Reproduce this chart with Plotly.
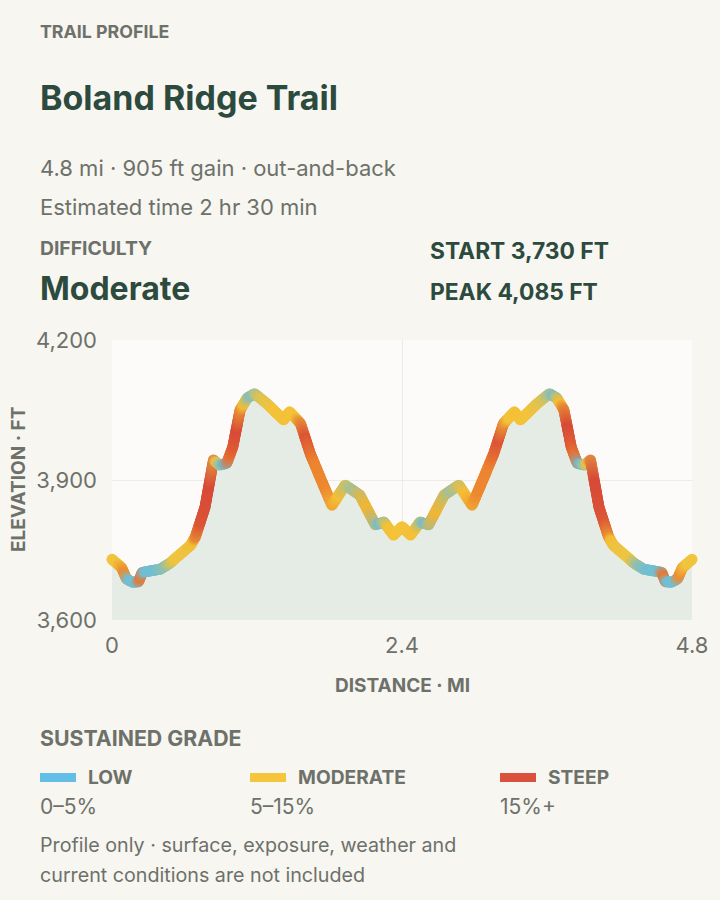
import math
import plotly.graph_objects as go

# ---------------- data ----------------
distance_mi = [
    0.00, 0.08, 0.12, 0.17, 0.22, 0.25, 0.31, 0.40, 0.48, 0.56, 0.65, 0.69,
    0.77, 0.84, 0.89, 0.95, 1.00, 1.06, 1.12, 1.18, 1.28, 1.42, 1.47, 1.56,
    1.64, 1.72, 1.82, 1.93, 2.05, 2.18, 2.25, 2.33, 2.40,
    2.47, 2.55, 2.62, 2.75, 2.87, 2.98, 3.08, 3.16, 3.24, 3.33, 3.38, 3.52,
    3.62, 3.68, 3.74, 3.80, 3.85, 3.91, 3.96, 4.03, 4.11, 4.15, 4.24, 4.32,
    4.40, 4.49, 4.55, 4.58, 4.63, 4.68, 4.72, 4.80,
]
elevation_ft = [
    3730, 3712, 3688, 3681, 3682, 3702, 3705, 3709, 3722, 3740, 3760, 3778,
    3842, 3943, 3932, 3936, 3971, 4050, 4076, 4085, 4064, 4029, 4046, 4021,
    3957, 3907, 3846, 3889, 3868, 3804, 3810, 3782, 3800,
    3782, 3810, 3804, 3868, 3889, 3846, 3907, 3957, 4021, 4046, 4029, 4064,
    4085, 4076, 4050, 3971, 3936, 3932, 3943, 3842, 3778, 3760, 3740, 3722,
    3709, 3705, 3702, 3682, 3681, 3688, 3712, 3730,
]

x_tick_vals = [0, 2.4, 4.8]
x_tick_text = ["0", "2.4", "4.8"]
y_tick_vals = [3600, 3900, 4200]
y_tick_text = ["3,600", "3,900", "4,200"]

grade_names = ["LOW", "MODERATE", "STEEP"]
grade_ranges = ["0–5%", "5–15%", "15%+"]
grade_colors = ["#64bfe8", "#f5c63c", "#db523c"]

title_small = "TRAIL PROFILE"
title_main = "Boland Ridge Trail"
subtitle_1 = "4.8 mi · 905 ft gain · out-and-back"
subtitle_2 = "Estimated time 2 hr 30 min"
difficulty_label = "DIFFICULTY"
difficulty_value = "Moderate"
start_text = "START 3,730 FT"
peak_text = "PEAK 4,085 FT"
footnote_lines = ["Profile only · surface, exposure, weather and",
                  "current conditions are not included"]

# ---------------- styling ----------------
PAGE_BG = "#f7f6f1"
PLOT_BG = "#fcfbf9"
FILL = "#e4ece5"
GRID = "#ecebe6"
GRAY = "#6d716a"
DARK = "#2c4a3d"
FONT = "Inter, Roboto, sans-serif"

W, H = 720, 900
ML, MR, MT, MB = 112, 28, 340, 280
PW, PH = W - ML - MR, H - MT - MB
XR = (0, 4.8)
YR = (3600, 4200)


def px(x):
    return (x - ML) / PW


def py(y):
    return (H - MB - y) / PH


# grade -> colour scale used for the profile stroke
scale_stops = [
    (0.0, (114, 190, 210)),
    (2.7, (114, 190, 210)),
    (4.3, (244, 196, 58)),
    (9.0, (244, 188, 50)),
    (12.0, (236, 128, 48)),
    (16.0, (215, 74, 56)),
]


def grade_rgb(g):
    g = abs(g)
    if g <= scale_stops[0][0]:
        return scale_stops[0][1]
    for (g0, c0), (g1, c1) in zip(scale_stops, scale_stops[1:]):
        if g <= g1:
            t = (g - g0) / (g1 - g0)
            return tuple(c0[k] + (c1[k] - c0[k]) * t for k in range(3))
    return scale_stops[-1][1]


def mix(a, b, t):
    return tuple(a[k] + (b[k] - a[k]) * t for k in range(3))


def hexc(c):
    return "#%02x%02x%02x" % tuple(int(round(v)) for v in c)


n = len(distance_mi)
seg_grade = [
    100 * (elevation_ft[i + 1] - elevation_ft[i]) / ((distance_mi[i + 1] - distance_mi[i]) * 5280)
    for i in range(n - 1)
]
seg_col = [grade_rgb(g) for g in seg_grade]
vert_col = [seg_col[0]] + [mix(seg_col[i - 1], seg_col[i], 0.5) for i in range(1, n - 1)] + [seg_col[-1]]

# dense stroke along each straight segment of the profile (rendering of the gradient line)
sx, sy, sc = [], [], []
for i in range(n - 1):
    x0, x1 = distance_mi[i], distance_mi[i + 1]
    y0, y1 = elevation_ft[i], elevation_ft[i + 1]
    lpx = math.hypot((x1 - x0) * PW / (XR[1] - XR[0]), (y1 - y0) * PH / (YR[1] - YR[0]))
    m = max(2, int(math.ceil(lpx / 1.2)))
    for j in range(m):
        t = j / m
        sx.append(x0 + (x1 - x0) * t)
        sy.append(y0 + (y1 - y0) * t)
        if t < 0.5:
            c = mix(vert_col[i], seg_col[i], t * 2)
        else:
            c = mix(seg_col[i], vert_col[i + 1], t * 2 - 1)
        sc.append(hexc(c))
sx.append(distance_mi[-1])
sy.append(elevation_ft[-1])
sc.append(hexc(vert_col[-1]))

fig = go.Figure()
fig.add_trace(go.Scatter(
    x=distance_mi, y=elevation_ft, mode="lines", line=dict(width=0, color=FILL),
    fill="tozeroy", fillcolor=FILL, hoverinfo="skip", showlegend=False,
))
fig.add_trace(go.Scatter(
    x=sx, y=sy, mode="markers",
    marker=dict(size=11, color=sc, line=dict(width=0)),
    hoverinfo="skip", showlegend=False, cliponaxis=False,
))

ann = []
DX = -2  # annotation inner padding compensation


def text(x, y, s, size, color, bold=False, anchor="left"):
    ann.append(dict(
        x=px(x + (DX if anchor == "left" else 0)), y=py(y), xref="paper", yref="paper",
        xanchor=anchor, yanchor="middle",
        text=("<b>%s</b>" % s) if bold else s, showarrow=False,
        font=dict(family=FONT, size=size, color=color), align="left",
    ))


text(40, 31, title_small, 17.8, GRAY, bold=True)
text(40, 97, title_main, 34, DARK, bold=True)
text(40, 168, subtitle_1, 22, GRAY)
text(40, 207, subtitle_2, 22, GRAY)
text(40, 248, difficulty_label, 19.3, GRAY, bold=True)
text(40, 288, difficulty_value, 32, DARK, bold=True)
text(430, 250, start_text, 22.8, DARK, bold=True)
text(430, 291, peak_text, 22.8, DARK, bold=True)

# axis titles
ann.append(dict(
    x=px(18), y=py(480), xref="paper", yref="paper", xanchor="center", yanchor="middle",
    text="<b>ELEVATION · FT</b>", textangle=-90, showarrow=False,
    font=dict(family=FONT, size=19, color=GRAY),
))
text(402, 685, "DISTANCE · MI", 19, GRAY, bold=True, anchor="center")

# legend
text(40, 738, "SUSTAINED GRADE", 21.3, GRAY, bold=True)
shapes = []
leg_x = [40, 250, 500]
for lx, name, rng, col in zip(leg_x, grade_names, grade_ranges, grade_colors):
    shapes.append(dict(
        type="rect", xref="paper", yref="paper",
        x0=px(lx), x1=px(lx + 36), y0=py(782), y1=py(773),
        fillcolor=col, line=dict(width=0),
    ))
    text(lx + 48, 777, name, 19.2, GRAY, bold=True)
    text(lx, 806, rng, 21, GRAY)

text(40, 845, footnote_lines[0], 19.7, GRAY)
text(40, 875, footnote_lines[1], 19.7, GRAY)

fig.update_layout(
    width=W, height=H,
    margin=dict(l=ML, r=MR, t=MT, b=MB, pad=0),
    paper_bgcolor=PAGE_BG, plot_bgcolor=PLOT_BG,
    showlegend=False,
    annotations=ann, shapes=shapes,
    font=dict(family=FONT, color=GRAY),
    xaxis=dict(
        range=list(XR), tickvals=x_tick_vals, ticktext=x_tick_text,
        showgrid=True, gridcolor=GRID, gridwidth=1, zeroline=False, showline=False,
        tickfont=dict(family=FONT, size=22, color=GRAY), ticks="", ticklabelstandoff=10,
        fixedrange=True,
    ),
    yaxis=dict(
        range=list(YR), tickvals=y_tick_vals, ticktext=y_tick_text,
        showgrid=True, gridcolor=GRID, gridwidth=1, zeroline=False, showline=False,
        tickfont=dict(family=FONT, size=22, color=GRAY), ticks="", ticklabelstandoff=14,
        fixedrange=True,
    ),
)

fig.write_html(
    "out.html",
    config={"displayModeBar": False},
    post_script="document.body.style.margin='0';document.body.style.background='%s';" % PAGE_BG,
)
